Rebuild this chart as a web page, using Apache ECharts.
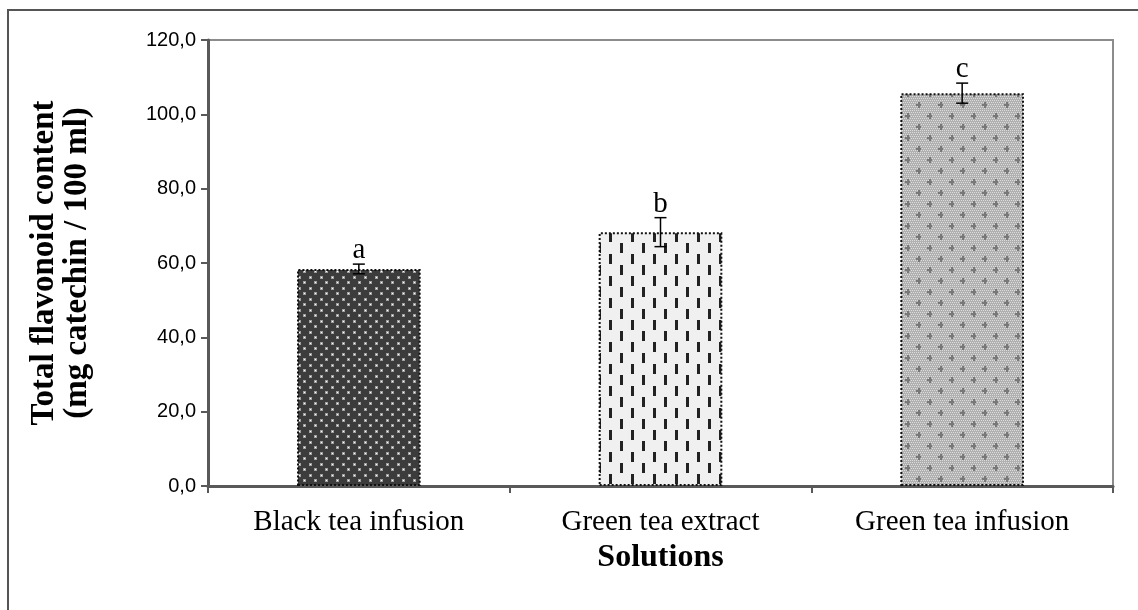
<!DOCTYPE html>
<html><head><meta charset="utf-8">
<script src="https://cdn.jsdelivr.net/npm/echarts@6/dist/echarts.min.js"></script>
<style>html,body{margin:0;padding:0;background:#fff}#c{width:1138px;height:610px}</style>
</head><body><div id="c"></div>
<script>
const categories = ['Black tea infusion', 'Green tea extract', 'Green tea infusion'];
const values = [58.4, 68.3, 105.7];
const errors = [1.3, 3.9, 2.7];
const letters = ['a', 'b', 'c'];
const yTicks = [0, 20, 40, 60, 80, 100, 120];

function makePattern(w, h, draw) {
  const c = document.createElement('canvas');
  c.width = w; c.height = h;
  const g = c.getContext('2d');
  draw(g);
  return c;
}
const patDark = makePattern(11, 11, g => {
  g.fillStyle = '#3c3c3c'; g.fillRect(0, 0, 11, 11);
  [[2, 2], [7, 7]].forEach(([x, y]) => {
    g.fillStyle = '#a0a0a0'; g.fillRect(x - 1, y - 1, 3, 3);
    g.fillStyle = '#ffffff'; g.fillRect(x, y, 1, 1);
  });
});
const patDash = makePattern(22, 22, g => {
  g.fillStyle = '#f0f0f0'; g.fillRect(0, 0, 22, 22);
  g.fillStyle = '#222';
  g.fillRect(4, 1, 3, 10);
  g.fillRect(15, 12, 3, 10);
});
const patGray = makePattern(22, 22, g => {
  g.fillStyle = '#b0b0b0'; g.fillRect(0, 0, 22, 22);
  g.fillStyle = '#dcdcdc';
  for (let y = 0; y < 22; y += 2) for (let x = (y / 2) % 2 ? 1 : 0; x < 22; x += 2) g.fillRect(x, y, 1, 1);
  g.fillStyle = '#787878';
  [[5, 5], [16, 16]].forEach(([x, y]) => {
    g.fillRect(x - 2, y, 5, 2); g.fillRect(x, y - 2, 2, 6);
  });
});
const patterns = [patDark, patDash, patGray];

const chart = echarts.init(document.getElementById('c'));
const fmt = v => v.toFixed(1).replace('.', ',');
chart.setOption({
  animation: false,
  backgroundColor: '#fff',
  graphic: [{
    type: 'rect', shape: { x: 8, y: 10, width: 1160, height: 640 },
    style: { fill: 'none', stroke: '#555', lineWidth: 2 }, silent: true
  }],
  grid: { left: 208, right: 25, top: 40, bottom: 124, show: true, borderColor: '#8c8c8c', borderWidth: 2 },
  xAxis: {
    type: 'category', data: categories,
    name: 'Solutions', nameLocation: 'middle', nameGap: 54,
    nameTextStyle: { fontFamily: 'Liberation Serif', fontWeight: 'bold', fontSize: 32, color: '#000' },
    axisLine: { lineStyle: { color: '#595959', width: 3 } },
    axisTick: { show: true, length: 7, lineStyle: { color: '#595959', width: 2 } },
    axisLabel: { fontFamily: 'Liberation Serif', fontSize: 29, color: '#000', margin: 22 }
  },
  yAxis: {
    type: 'value', min: 0, max: 120, interval: 20,
    name: 'Total flavonoid content\n(mg catechin / 100 ml)', nameLocation: 'middle', nameGap: 114,
    nameTextStyle: { fontFamily: 'Liberation Serif', fontWeight: 'bold', fontSize: 33, color: '#000', lineHeight: 33 },
    splitLine: { show: false },
    axisLine: { show: true, lineStyle: { color: '#595959', width: 3 } },
    axisTick: { show: true, length: 7, lineStyle: { color: '#595959', width: 2 } },
    axisLabel: { fontFamily: 'Liberation Sans', fontSize: 20, color: '#000', margin: 12, formatter: v => fmt(v) }
  },
  series: [{
    type: 'bar', barWidth: '41%',
    data: values.map((v, i) => ({
      value: v,
      itemStyle: { color: { image: patterns[i], repeat: 'repeat' }, borderColor: '#111', borderWidth: 2, borderType: [2, 2] }
    }))
  }, {
    type: 'custom',
    data: values.map((v, i) => [i, v, errors[i]]),
    z: 10,
    renderItem: (params, api) => {
      const i = api.value(0), v = api.value(1), e = api.value(2);
      const top = api.coord([i, v + e]);
      const bot = api.coord([i, v - e]);
      const hw = 6;
      return {
        type: 'group',
        children: [
          { type: 'line', shape: { x1: top[0], y1: top[1], x2: bot[0], y2: bot[1] }, style: { stroke: '#000', lineWidth: 1.5 } },
          { type: 'line', shape: { x1: top[0] - hw, y1: top[1], x2: top[0] + hw, y2: top[1] }, style: { stroke: '#000', lineWidth: 1.5 } },
          { type: 'line', shape: { x1: bot[0] - hw, y1: bot[1], x2: bot[0] + hw, y2: bot[1] }, style: { stroke: '#000', lineWidth: 1.5 } },
          { type: 'text', x: top[0], y: top[1] + 1, style: { text: letters[i], fill: '#000', font: '29px "Liberation Serif"', align: 'center', verticalAlign: 'bottom' } }
        ]
      };
    }
  }]
});
</script></body></html>
